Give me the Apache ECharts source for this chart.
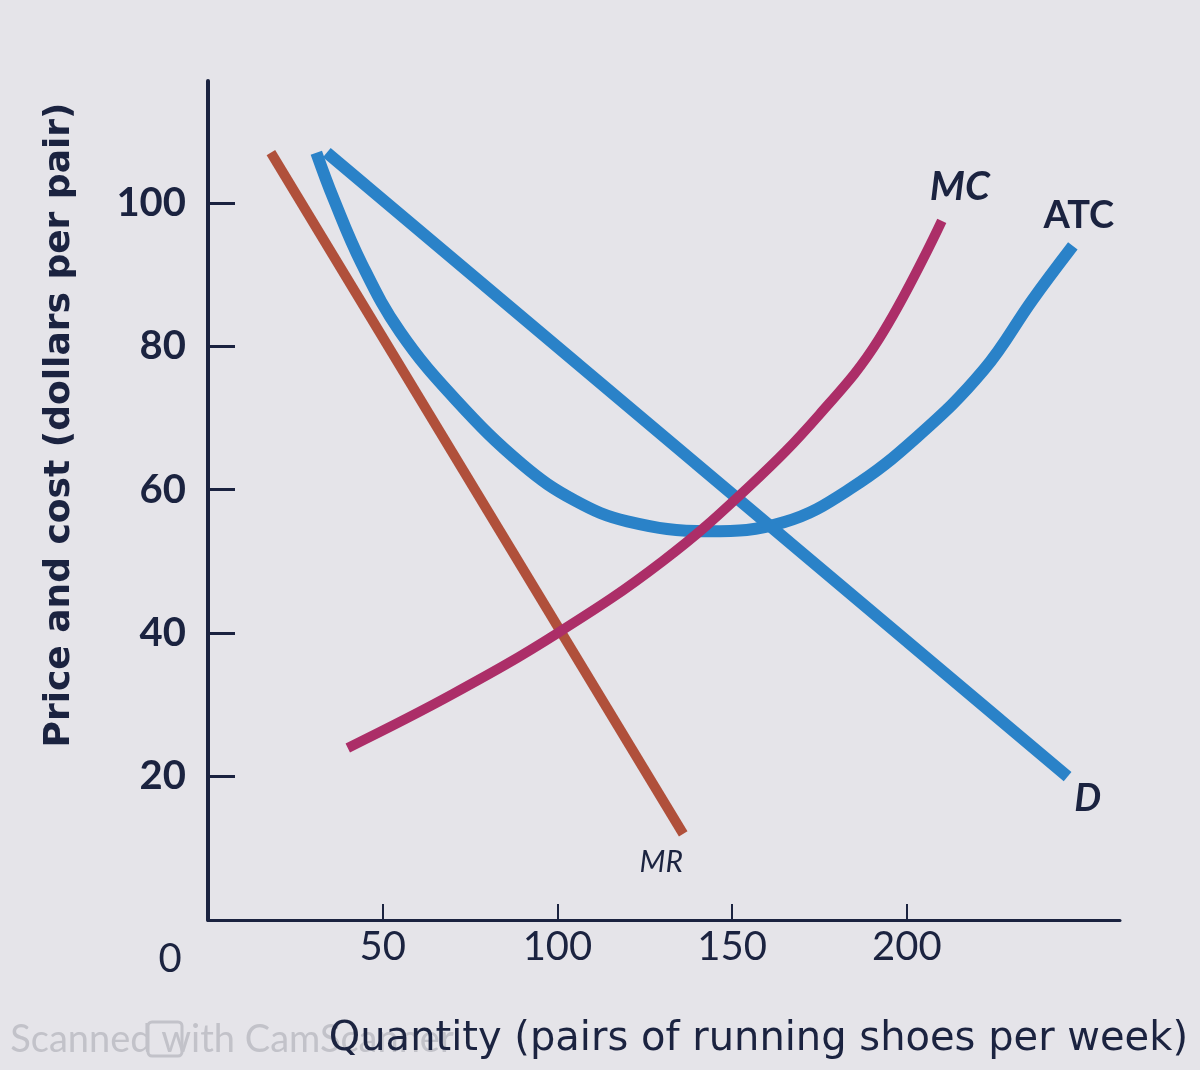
<!DOCTYPE html>
<html>
<head>
<meta charset="utf-8">
<script src="https://cdn.jsdelivr.net/npm/echarts@6/dist/echarts.min.js"></script>
<style>
html,body{margin:0;padding:0;background:#e5e4e9;}
#c{width:1200px;height:1070px;}
</style>
</head>
<body>
<div id="c"></div>
<script>
// Quantity (pairs per week) and price/cost (dollars per pair)
const demandQ = [34, 246];
const demandP = [107, 20];
const mrQ = [18, 136];
const mrP = [107, 12];
const mcQ = [40, 70, 100, 130, 155, 175, 192, 210];
const mcP = [24, 31.5, 40, 50, 60.5, 70.5, 81, 97.5];
const atcQ = [31, 36, 44, 55, 71, 90, 105, 120, 143, 165, 184, 203, 222, 236, 247.5];
const atcP = [107, 100.5, 91.5, 82, 72.5, 63.5, 58.5, 55.6, 54.2, 55.5, 60.2, 67.4, 76.7, 86.5, 94];
const xTicks = [0, 50, 100, 150, 200];
const yTicks = [20, 40, 60, 80, 100];

const pairs = (xs, ys) => xs.map((x, i) => [x, ys[i]]);
const ink = '#1b2340';
const font = 'Lato, "Open Sans", sans-serif';
const wide = '"DejaVu Sans", sans-serif';

const chart = echarts.init(document.getElementById('c'));
chart.setOption({
  backgroundColor: '#e5e4e9',
  animation: false,
  grid: {left: 208, top: 81, right: 80, bottom: 150},
  xAxis: {
    type: 'value', min: 0, max: 261,
    axisLine: {show: true, lineStyle: {color: ink, width: 3}},
    axisTick: {show: true, inside: true, length: 16, customValues: xTicks.filter(v => v > 0), lineStyle: {color: ink, width: 2}},
    axisLabel: {
      customValues: xTicks, color: ink, fontSize: 40, fontFamily: font, margin: 7,
      formatter: v => v === 0 ? '{z|0}' : String(v),
      rich: {z: {fontSize: 40, fontFamily: font, color: ink, padding: [12, 76, 0, 0]}}
    },
    splitLine: {show: false}
  },
  yAxis: {
    type: 'value', min: 0, max: 117,
    axisLine: {show: true, lineStyle: {color: ink, width: 4}},
    axisTick: {show: true, inside: true, length: 27, customValues: yTicks, lineStyle: {color: ink, width: 3}},
    axisLabel: {customValues: yTicks, color: ink, fontSize: 40, fontWeight: 'bold', fontFamily: font, margin: 22},
    splitLine: {show: false}
  },
  graphic: [
    {type: 'text', x: 60, y: 425, rotation: Math.PI / 2,
     style: {text: 'Price and cost (dollars per pair)', fill: ink, font: 'bold 36px ' + wide, align: 'center', verticalAlign: 'middle'}},
    {type: 'text', x: 232, y: 1040, z: 1,
     style: {text: 'Scanned with CamScanner', fill: '#c2c2c9', font: '38px ' + font, align: 'center', verticalAlign: 'middle'}},
    {type: 'rect', shape: {x: 148, y: 1022, width: 34, height: 34, r: 4}, z: 1,
     style: {fill: 'none', stroke: '#c2c2c9', lineWidth: 3}},
    {type: 'text', x: 1188, y: 1040, z: 2,
     style: {text: 'Quantity (pairs of running shoes per week)', fill: ink, font: '40px ' + wide, align: 'right', verticalAlign: 'middle'}}
  ],
  series: [
    {name: 'MR', type: 'line', data: pairs(mrQ, mrP), showSymbol: false, z: 3,
     lineStyle: {color: '#b0503b', width: 10},
     endLabel: {show: true, formatter: 'MR', distance: 0, align: 'center', verticalAlign: 'middle', offset: [-22, 28],
       color: ink, fontSize: 30, fontStyle: 'italic', fontFamily: font}},
    {name: 'ATC', type: 'line', data: pairs(atcQ, atcP), smooth: 0.4, showSymbol: false, z: 2,
     lineStyle: {color: '#2a82c8', width: 12},
     endLabel: {show: true, formatter: 'ATC', distance: 0, align: 'center', verticalAlign: 'middle', offset: [6, -30],
       color: ink, fontSize: 38, fontWeight: 'bold', fontFamily: font}},
    {name: 'D', type: 'line', data: pairs(demandQ, demandP), showSymbol: false, z: 2,
     lineStyle: {color: '#2a82c8', width: 12},
     endLabel: {show: true, formatter: 'D', distance: 0, align: 'center', verticalAlign: 'middle', offset: [20, 22],
       color: ink, fontSize: 38, fontWeight: 'bold', fontStyle: 'italic', fontFamily: font}},
    {name: 'MC', type: 'line', data: pairs(mcQ, mcP), smooth: 0.4, showSymbol: false, z: 4,
     lineStyle: {color: '#ac2e68', width: 10},
     endLabel: {show: true, formatter: 'MC', distance: 0, align: 'center', verticalAlign: 'middle', offset: [18, -34],
       color: ink, fontSize: 40, fontWeight: 'bold', fontStyle: 'italic', fontFamily: font}}
  ]
});
</script>
</body>
</html>
